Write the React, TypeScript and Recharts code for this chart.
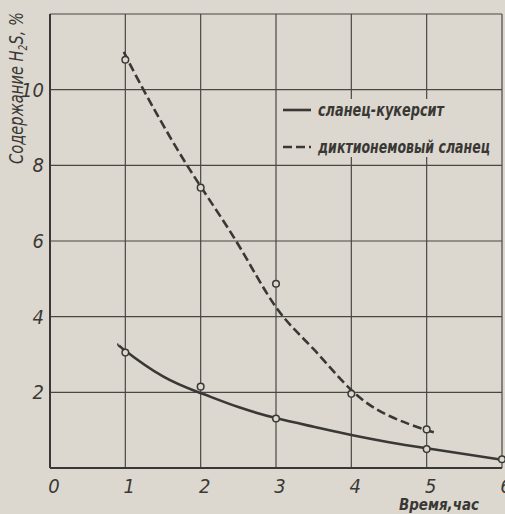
import React from 'react';
import {
  ComposedChart,
  Line,
  Scatter,
  XAxis,
  YAxis,
  CartesianGrid,
  Legend,
  Label,
} from 'recharts';

const BG = '#dcd8cf';
const INK = '#3a3835';
const FONT = "'DejaVu Sans', sans-serif";
const NARROW = { fontStretch: 'condensed' as const };

// axis ticks
const X_TICKS = [0, 1, 2, 3, 4, 5, 6];
const Y_TICKS = [0, 2, 4, 6, 8, 10, 12];

// series names
const KUKERSIT = 'сланец-кукерсит';
const DICTYO = 'диктионемовый сланец';

// measured points (hollow circles)
const kukersitPointX = [1, 2, 3, 5, 6];
const kukersitPointY = [3.05, 2.15, 1.31, 0.5, 0.23];
const dictyoPointX = [1, 2, 3, 4, 5];
const dictyoPointY = [10.79, 7.41, 4.87, 1.96, 1.02];

// smoothed curves
const kukersitCurveX = [0.91, 1, 1.5, 2, 2.5, 3, 3.5, 4, 4.5, 5, 6];
const kukersitCurveY = [3.27, 3.1, 2.42, 1.98, 1.61, 1.32, 1.09, 0.87, 0.68, 0.52, 0.22];
const dictyoCurveX = [0.98, 1.24, 1.82, 2.47, 3, 3.5, 4, 4.5, 5, 5.13];
const dictyoCurveY = [11.0, 10, 8, 6, 4.25, 3.14, 2.06, 1.38, 1.0, 0.93];

const zip = (xs: number[], ys: number[]) => xs.map((x, i) => ({ x, y: ys[i] }));

const DASH: Record<string, string | undefined> = {
  [KUKERSIT]: undefined,
  [DICTYO]: '9 4',
};
const LEGEND_WIDTH: Record<string, number> = {
  [KUKERSIT]: 126,
  [DICTYO]: 172,
};

const XTick = ({ x, y, payload }: any) => (
  <text
    x={x + 4}
    y={y + 17}
    textAnchor="middle"
    fill={INK}
    fontFamily={FONT}
    fontStyle="italic"
    fontSize={20}
    style={NARROW}
  >
    {payload.value}
  </text>
);

const YTick = ({ x, y, payload }: any) => {
  // 0 sits on the x axis, 12 is the frame top: no label
  if (payload.value === 0 || payload.value === 12) return null;
  return (
    <text
      x={x + 2}
      y={y + 7}
      textAnchor="end"
      fill={INK}
      fontFamily={FONT}
      fontStyle="italic"
      fontSize={20}
      style={NARROW}
    >
      {payload.value}
    </text>
  );
};

const Dot = (props: any) => (
  <circle cx={props.cx} cy={props.cy} r={3.3} fill={BG} stroke={INK} strokeWidth={1.5} />
);

const LegendBox = () => (
  <svg width={218} height={58}>
    {[KUKERSIT, DICTYO].map((name, i) => (
      <g key={name}>
        <line
          x1={2}
          x2={30}
          y1={11 + i * 37}
          y2={11 + i * 37}
          stroke={INK}
          strokeWidth={2.6}
          strokeDasharray={DASH[name]}
        />
        <text
          x={37}
          y={17 + i * 37}
          fill={INK}
          fontFamily={FONT}
          fontStyle="italic"
          fontWeight="bold"
          fontSize={18}
          textLength={LEGEND_WIDTH[name]}
          lengthAdjust="spacingAndGlyphs"
          style={NARROW}
        >
          {name}
        </text>
      </g>
    ))}
  </svg>
);

export default function App() {
  return (
    <div style={{ position: 'absolute', left: 0, top: 0, width: 505, height: 514, background: BG }}>
      <ComposedChart width={505} height={514} margin={{ top: 14, right: 3, left: 0, bottom: 0 }}>
        <CartesianGrid stroke="#4a4743" strokeWidth={1.2} />
        <XAxis
          type="number"
          dataKey="x"
          domain={[0, 6]}
          ticks={X_TICKS}
          height={46}
          axisLine={{ stroke: INK, strokeWidth: 2 }}
          tickLine={false}
          tick={<XTick />}
          interval={0}
        >
          <Label
            content={() => (
              <text
                x={479}
                y={510}
                textAnchor="end"
                fill={INK}
                fontFamily={FONT}
                fontStyle="italic"
                fontWeight="bold"
                fontSize={16}
                textLength={80}
                lengthAdjust="spacingAndGlyphs"
                style={NARROW}
              >
                Время,час
              </text>
            )}
          />
        </XAxis>
        <YAxis
          type="number"
          domain={[0, 12]}
          ticks={Y_TICKS}
          width={50}
          axisLine={{ stroke: INK, strokeWidth: 2 }}
          tickLine={false}
          tick={<YTick />}
          interval={0}
        >
          <Label
            content={() => (
              <text
                transform="translate(23,88) rotate(-90)"
                textAnchor="middle"
                fill={INK}
                fontFamily={FONT}
                fontStyle="italic"
                fontSize={19}
                textLength={152}
                lengthAdjust="spacingAndGlyphs"
                style={NARROW}
              >
                Содержание H
                <tspan fontSize={12} dy={4}>2</tspan>
                <tspan dy={-4}>S, %</tspan>
              </text>
            )}
          />
        </YAxis>
        <Legend
          layout="horizontal"
          verticalAlign="middle"
          align="center"
          content={() => <LegendBox />}
          wrapperStyle={{ position: 'absolute', left: 281, top: 99, width: 218, height: 58, background: BG }}
        />
        <Line
          name={KUKERSIT}
          data={zip(kukersitCurveX, kukersitCurveY)}
          dataKey="y"
          type="natural"
          stroke={INK}
          strokeWidth={2.6}
          dot={false}
          isAnimationActive={false}
        />
        <Line
          name={DICTYO}
          data={zip(dictyoCurveX, dictyoCurveY)}
          dataKey="y"
          type="natural"
          stroke={INK}
          strokeWidth={2.6}
          strokeDasharray={DASH[DICTYO]}
          dot={false}
          isAnimationActive={false}
        />
        <Scatter
          data={zip(kukersitPointX, kukersitPointY)}
          dataKey="y"
          shape={<Dot />}
          legendType="none"
          isAnimationActive={false}
        />
        <Scatter
          data={zip(dictyoPointX, dictyoPointY)}
          dataKey="y"
          shape={<Dot />}
          legendType="none"
          isAnimationActive={false}
        />
      </ComposedChart>
    </div>
  );
}
